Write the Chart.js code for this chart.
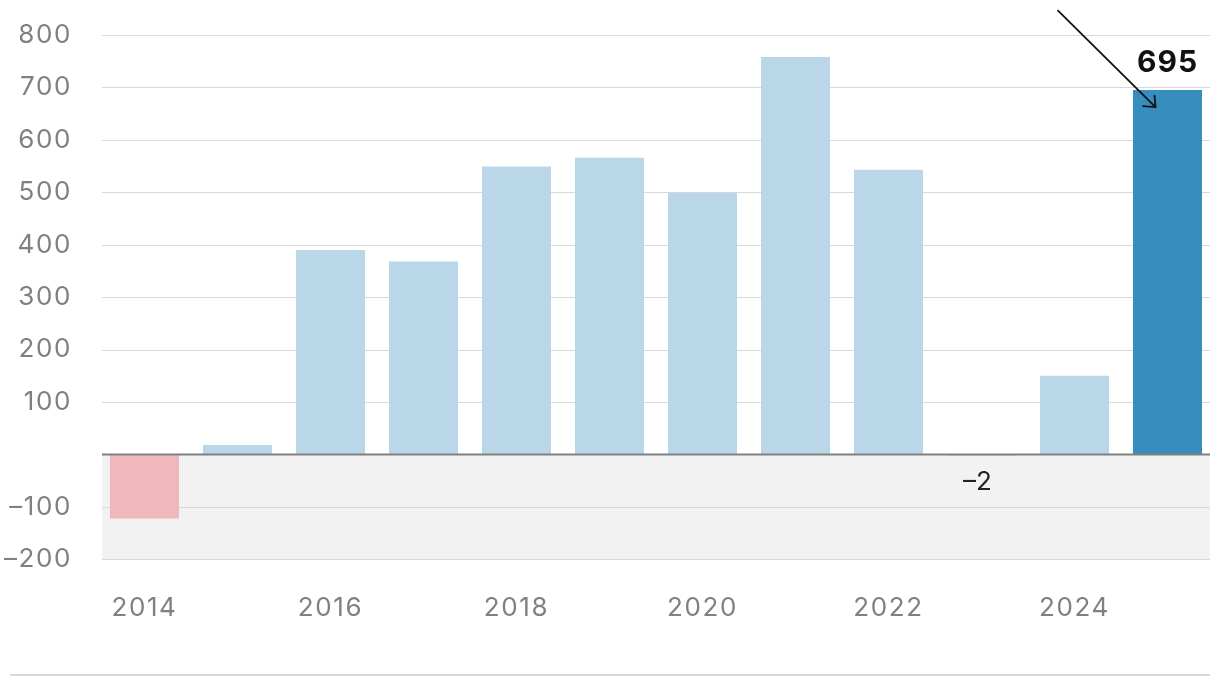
<!DOCTYPE html>
<html>
<head>
<meta charset="utf-8">
<script src="https://cdn.jsdelivr.net/npm/chart.js@4"></script>
<style>
  html, body { margin: 0; padding: 0; background: #fff; }
  #wrap { width: 1220px; height: 686px; position: relative; }
</style>
</head>
<body>
<div id="wrap"><canvas id="barChart"></canvas></div>
<script>
// data
var years = ['2014', '2015', '2016', '2017', '2018', '2019', '2020', '2021', '2022', '2023', '2024', '2025'];
var values = [-122, 18, 390, 368, 549, 566, 499, 758, 543, -2, 150, 695];
var yTicks = [-200, -100, 0, 100, 200, 300, 400, 500, 600, 700, 800];

var LIGHT = '#b9d7e9';
var DARK = '#378dbd';
var PINK = '#f0b8bc';
var GRID = '#d9d9d9';
var AXIS_GREY = '#808080';
var FONT = 'Inter, "Open Sans", sans-serif';

function fmt(v) {
  return v < 0 ? '\u2013' + Math.abs(v) : String(v);
}

// grey band under zero + horizontal grid lines (inset a bit from the bar range)
var backdrop = {
  id: 'backdrop',
  beforeDraw: function(chart) {
    // the reference type is set a little wider than Inter
    chart.ctx.letterSpacing = '1.6px';
  },
  beforeDatasetsDraw: function(chart) {
    var ctx = chart.ctx, a = chart.chartArea, y = chart.scales.y;
    var x0 = a.left + 4, x1 = a.right - 4;
    ctx.save();
    ctx.fillStyle = '#f2f2f2';
    ctx.fillRect(x0, y.getPixelForValue(0), x1 - x0, y.getPixelForValue(yTicks[0]) - y.getPixelForValue(0));
    ctx.strokeStyle = GRID;
    ctx.lineWidth = 1;
    yTicks.forEach(function(t) {
      if (t === 0) return;
      var py = Math.round(y.getPixelForValue(t)) + 0.5;
      ctx.beginPath();
      ctx.moveTo(x0, py);
      ctx.lineTo(x1, py);
      ctx.stroke();
    });
    ctx.restore();
  },
  afterDatasetsDraw: function(chart) {
    var ctx = chart.ctx, a = chart.chartArea, y = chart.scales.y;
    var x0 = a.left + 4, x1 = a.right - 4;
    var bars = chart.getDatasetMeta(0).data;
    ctx.save();
    // zero line
    var zy = y.getPixelForValue(0);
    ctx.strokeStyle = AXIS_GREY;
    ctx.lineWidth = 2;
    ctx.beginPath();
    ctx.moveTo(x0, zy);
    ctx.lineTo(x1, zy);
    ctx.stroke();

    // value labels
    var last = bars.length - 1;
    ctx.textAlign = 'center';
    ctx.textBaseline = 'alphabetic';
    ctx.fillStyle = '#111';
    ctx.font = 'bold 30px ' + FONT;
    ctx.letterSpacing = '1px';
    ctx.fillText(fmt(values[last]), bars[last].x, bars[last].y - 18);

    ctx.fillStyle = '#222';
    ctx.font = '26px ' + FONT;
    ctx.letterSpacing = '0px';
    ctx.fillText(fmt(values[9]), bars[9].x - 4, zy + 36);

    // arrow pointing into the last bar
    var tx = bars[last].x - 12, ty = bars[last].y + 17;
    ctx.strokeStyle = '#111';
    ctx.lineWidth = 1.8;
    ctx.beginPath();
    ctx.moveTo(tx - 98, ty - 97);
    ctx.lineTo(tx, ty);
    ctx.stroke();
    ctx.beginPath();
    ctx.moveTo(tx - 13, ty - 1);
    ctx.lineTo(tx, ty);
    ctx.lineTo(tx - 1, ty - 12);
    ctx.stroke();

    // bottom rule
    ctx.strokeStyle = GRID;
    ctx.lineWidth = 2;
    ctx.beginPath();
    ctx.moveTo(10, 675);
    ctx.lineTo(x1, 675);
    ctx.stroke();
    ctx.restore();
  }
};

var chart = new Chart(document.getElementById('barChart'), {
  type: 'bar',
  data: {
    labels: years,
    datasets: [{
      data: values,
      backgroundColor: function(c) {
        if (c.dataIndex === values.length - 1) return DARK;
        return c.raw < 0 ? PINK : LIGHT;
      },
      borderWidth: 0,
      barPercentage: 0.742,
      categoryPercentage: 1
    }]
  },
  options: {
    responsive: true,
    maintainAspectRatio: false,
    animation: false,
    layout: { padding: { top: 35, right: 6, bottom: 0, left: 0 } },
    plugins: {
      legend: { display: false },
      tooltip: { enabled: false }
    },
    scales: {
      x: {
        offset: true,
        grid: { display: false },
        border: { display: false },
        ticks: {
          autoSkip: false,
          maxRotation: 0,
          padding: 25,
          color: AXIS_GREY,
          font: { family: FONT, size: 26 },
          callback: function(v, i) { return i % 2 === 0 ? years[i] : ''; }
        },
        afterFit: function(s) { s.height = 126.7; }
      },
      y: {
        min: -200,
        max: 800,
        grid: { display: false },
        border: { display: false },
        ticks: {
          stepSize: 100,
          padding: 18,
          color: AXIS_GREY,
          font: { family: FONT, size: 26 },
          callback: function(v) { return v === 0 ? '' : fmt(v); }
        },
        afterFit: function(s) { s.width = 98; }
      }
    }
  },
  plugins: [backdrop]
});
</script>
</body>
</html>
